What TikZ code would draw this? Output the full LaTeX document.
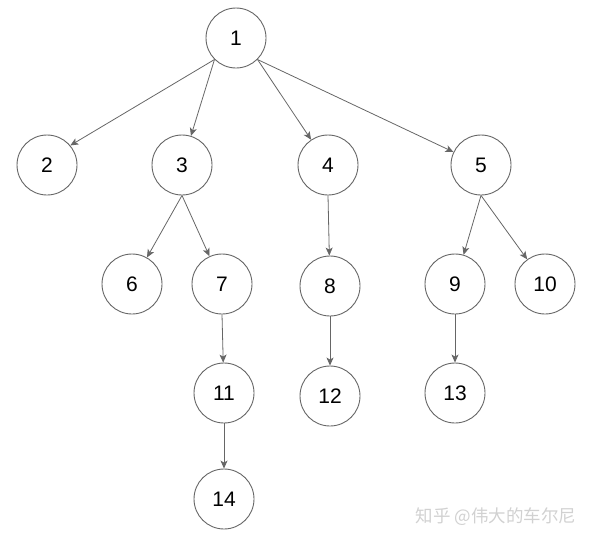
\documentclass[tikz,border=0pt]{standalone}
\usepackage{fontspec}
\setmainfont{Liberation Sans}
\newfontfamily\cjk{Noto Sans CJK SC}
\usepackage{tikz}
\usetikzlibrary{arrows.meta}

\definecolor{edgegray}{HTML}{666666}
\tikzset{vtx/.style={draw=edgegray,circle,line width=.9pt,minimum size=60pt,inner sep=0pt,font=\fontsize{21}{24}\selectfont},
         lnk/.style={->,draw=edgegray,line width=.8pt}}

\begin{document}
\begin{tikzpicture}[x=1pt,y=-1pt,>={Stealth[length=8pt,width=7pt,inset=2pt]}]
\useasboundingbox (0,0) rectangle (596,541);
\node [vtx] (n1)  at (236,38)  {1};
\node [vtx] (n2)  at (47,165)  {2};
\node [vtx] (n3)  at (182,165) {3};
\node [vtx] (n4)  at (328,165) {4};
\node [vtx] (n5)  at (481,165) {5};
\node [vtx] (n6)  at (132,284) {6};
\node [vtx] (n7)  at (222,284) {7};
\node [vtx] (n8)  at (330,286) {8};
\node [vtx] (n9)  at (455,284) {9};
\node [vtx] (n10) at (545,284) {10};
\node [vtx] (n11) at (224,393) {11};
\node [vtx] (n12) at (330,396) {12};
\node [vtx] (n13) at (455,393) {13};
\node [vtx] (n14) at (224,499) {14};
\draw [lnk] (n1.225) -- (n2.40);
\draw [lnk] (n1.225) -- (n3);
\draw [lnk] (n1.-45) -- (n4);
\draw [lnk] (n1.-45) -- (n5);
\draw [lnk] (n3.south) -- (n6);
\draw [lnk] (n3.south) -- (n7);
\draw [lnk] (n4.south) -- (n8);
\draw [lnk] (n5.south) -- (n9);
\draw [lnk] (n5.south) -- (n10);
\draw [lnk] (n7.south) -- (n11);
\draw [lnk] (n8.south) -- (n12);
\draw [lnk] (n9.south) -- (n13);
\draw [lnk] (n11.south) -- (n14);
% watermark
\node [text=black!18,font=\cjk\fontsize{17.5}{20}\selectfont] (mark) at (496,517) {知乎 @伟大的车尔尼};
\end{tikzpicture}
\end{document}
